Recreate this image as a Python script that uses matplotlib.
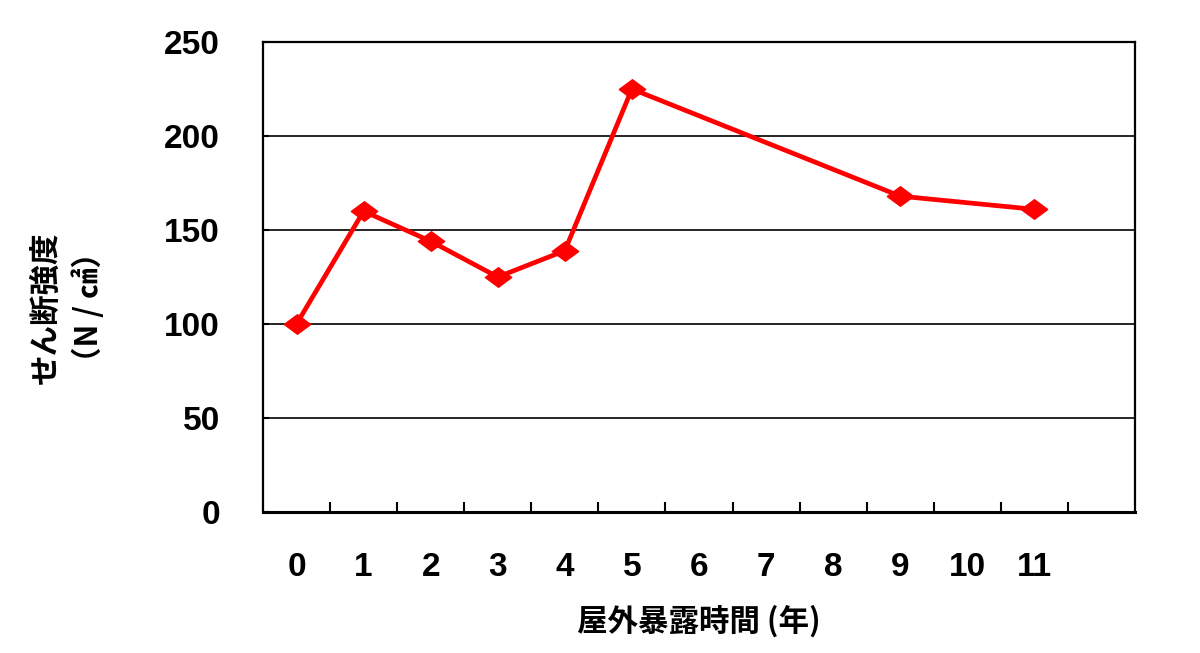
import numpy as np
import matplotlib
matplotlib.use('Agg')
import matplotlib.pyplot as plt
from matplotlib.path import Path

plt.rcParams['font.family'] = ['Noto Sans CJK JP', 'DejaVu Sans']

# --- data -------------------------------------------------------------------
categories = ['0', '1', '2', '3', '4', '5', '6', '7', '8', '9', '10', '11', '']
years      = ['0', '1', '2', '3', '4', '5', '9', '11']
strength   = [100, 160, 144, 125, 139, 225, 168, 161]

xlabel  = '屋外暴露時間 (年)'
ylabel1 = 'せん断強度'
ylabel2 = '（N / ㎠）'
yticks  = [0, 50, 100, 150, 200, 250]

# --- figure -----------------------------------------------------------------
fig = plt.figure(figsize=(12, 6.53), dpi=100)
ax = fig.add_axes([263 / 1200, 1 - 512 / 653, (1135 - 263) / 1200, (512 - 42) / 653])

xpos = [categories.index(y) for y in years]

# flattened diamond like the original Excel marker
diamond = Path([(-1.35, 0), (0, 1), (1.35, 0), (0, -1), (-1.35, 0)],
               [Path.MOVETO, Path.LINETO, Path.LINETO, Path.LINETO, Path.CLOSEPOLY])

ax.plot(xpos, strength, color='#ff0000', lw=3.4, marker=diamond, ms=19,
        mfc='#ff0000', mec='#ff0000', zorder=3, solid_joinstyle='miter')

ax.set_xlim(-0.5, len(categories) - 0.5)
ax.set_ylim(0, 250)

# category boundaries as major ticks, labels on minor ticks
ax.set_xticks(np.arange(0.5, len(categories) - 0.5, 1))
ax.set_xticklabels([])
ax.set_xticks(np.arange(len(categories)), minor=True)
ax.set_xticklabels(categories, minor=True, fontsize=24, fontweight='bold',
                   family='Liberation Sans')
ax.tick_params(axis='x', which='major', direction='in', length=7, width=1.5)
ax.tick_params(axis='x', which='minor', length=0, pad=29)

ax.set_yticks(yticks)
ax.set_yticklabels([str(v) for v in yticks], fontsize=24, fontweight='bold',
                   family='Liberation Sans')
ax.tick_params(axis='y', direction='in', length=4, width=1.5, pad=31)

ax.grid(axis='y', color='black', lw=1.2)
ax.set_axisbelow(True)
for s in ax.spines.values():
    s.set_linewidth(1.6)
ax.spines['bottom'].set_linewidth(2.2)

ax.set_xlabel(xlabel, fontsize=22, fontweight='bold', labelpad=16)

fig.text(46 / 1200, 1 - 308 / 653, ylabel1, rotation=90, ha='center', va='center',
         fontsize=22, fontweight='bold')
fig.text(89 / 1200, 1 - 307 / 653, ylabel2, rotation=90, ha='center', va='center',
         fontsize=22, fontweight='bold')

fig.savefig('out.png', dpi=100)
